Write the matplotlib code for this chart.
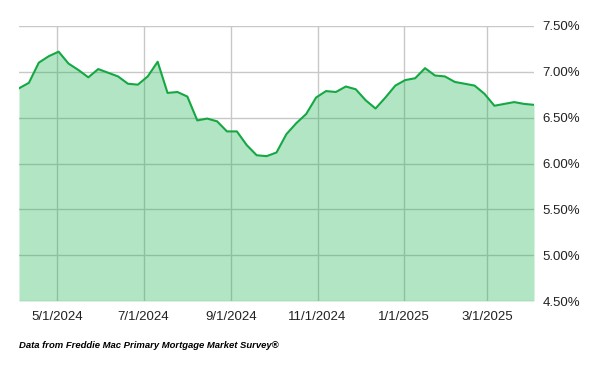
import pandas as pd
import matplotlib
matplotlib.use("Agg")
import matplotlib.pyplot as plt
from matplotlib.ticker import FuncFormatter

# weekly 30-yr fixed rate (%), Thursdays from 4/4/2024
dates = pd.date_range("2024-04-04", "2025-04-03", freq="7D")
rates = [6.82, 6.88, 7.10, 7.17,
         7.22, 7.09, 7.02, 6.94, 7.03,
         6.99, 6.95, 6.87, 6.86,
         6.95, 7.11, 6.77, 6.78,
         6.73, 6.47, 6.49, 6.46, 6.35,
         6.35, 6.20, 6.09, 6.08,
         6.12, 6.32, 6.44, 6.54, 6.72,
         6.79, 6.78, 6.84, 6.81,
         6.69, 6.60, 6.72, 6.85,
         6.91, 6.93, 7.04, 6.96, 6.95,
         6.89, 6.87, 6.85, 6.76,
         6.63, 6.65, 6.67, 6.65,
         6.64]
xticks = pd.to_datetime(["2024-05-01", "2024-07-01", "2024-09-01",
                         "2024-11-01", "2025-01-01", "2025-03-01"])
yticks = [4.5, 5.0, 5.5, 6.0, 6.5, 7.0, 7.5]

plt.rcParams['font.family'] = ['Liberation Sans', 'DejaVu Sans']

fig = plt.figure(figsize=(6, 3.71), dpi=100)
ax = fig.add_axes([19 / 600, 70 / 371, 515 / 600, 275 / 371])

# translucent fill over the grid, so grid shows through greenish
ax.fill_between(dates, rates, 4.5, color="#12b14a", alpha=0.32, lw=0, zorder=2)
ax.plot(dates, rates, color="#14a843", lw=1.5, zorder=3)

ax.set_xlim(dates[0], dates[-1])
ax.set_ylim(4.5, 7.5)
ax.set_xticks(xticks)
ax.set_xticklabels([f"{d.month}/{d.day}/{d.year}" for d in xticks])
ax.set_yticks(yticks)
ax.yaxis.set_major_formatter(FuncFormatter(lambda v, p: f"{v:.2f}%"))
ax.yaxis.tick_right()
ax.tick_params(axis="both", length=0, labelsize=9.5, colors="#222222")
ax.tick_params(axis="y", pad=6)
ax.tick_params(axis="x", pad=7)
for s in ax.spines.values():
    s.set_visible(False)
ax.grid(True, color="#c8c8c8", lw=1, zorder=1)
ax.set_axisbelow(True)

fig.text(19 / 600, 1 - 346 / 371, "Data from Freddie Mac Primary Mortgage Market Survey\u00ae",
         fontsize=6.8, fontweight="bold", fontstyle="italic", va="center", ha="left")

fig.savefig("out.png", dpi=100)
